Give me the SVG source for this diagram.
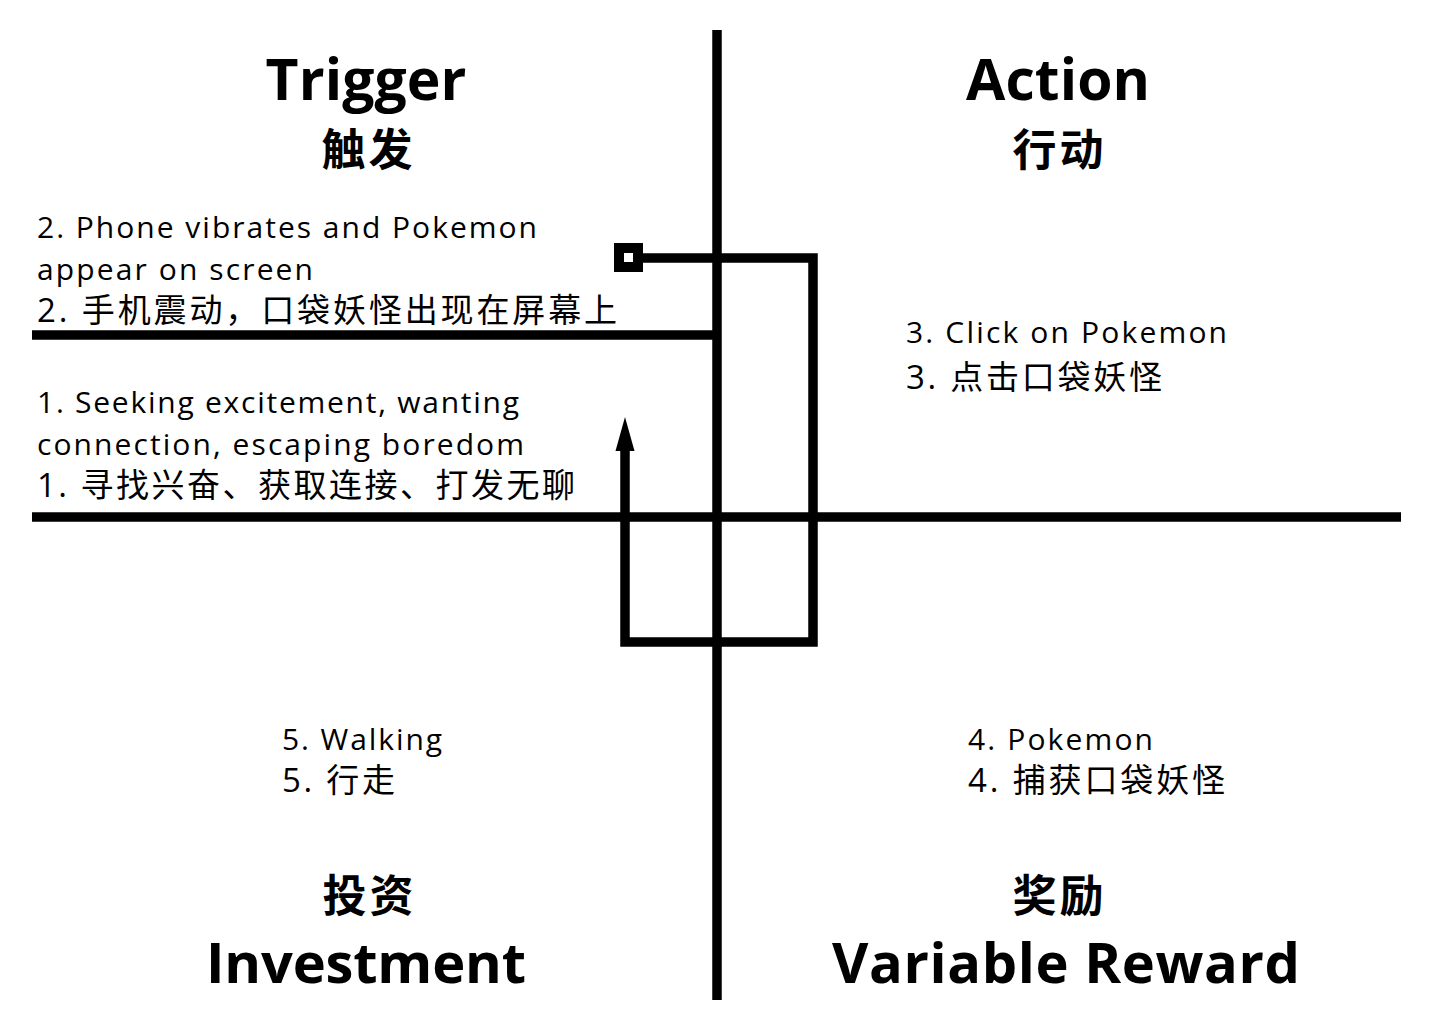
<svg xmlns="http://www.w3.org/2000/svg" width="1431" height="1025" viewBox="0 0 1431 1025">
<style>
.h{font-family:"Open Sans","Noto Sans","Noto Sans CJK SC",sans-serif;font-weight:700;font-size:57px;fill:#000;text-anchor:middle}
.hb{font-size:56px}
.hc{font-family:"Noto Sans CJK SC",sans-serif;font-weight:700;font-size:44px;fill:#000;text-anchor:middle}
.t{font-family:"Open Sans","Noto Sans","Noto Sans CJK SC",sans-serif;font-size:30px;fill:#000}
.tc{font-family:"Open Sans","Noto Sans CJK SC",sans-serif;font-size:33px;fill:#000}
.ln{stroke:#000;stroke-width:9.5;fill:none}
</style>
<rect width="1431" height="1025" fill="#fff"/>
<g id="axes">
<line class="ln" x1="717" y1="30" x2="717" y2="1000"/>
<line class="ln" x1="32" y1="517" x2="1401" y2="517"/>
<line class="ln" x1="32" y1="335" x2="717" y2="335"/>
</g>
<g id="connectors">
<rect x="619" y="248" width="19" height="19" fill="#fff" stroke="#000" stroke-width="10"/>
<path class="ln" d="M643,258 H813 V642 H625 V451" stroke-linejoin="miter"/>
<polygon points="625,417 615.5,451 634.5,451" fill="#000"/>
</g>
<g id="trigger">
<text class="h" x="366" y="100" textLength="201">Trigger</text>
<text class="hc" x="367" y="166" textLength="91">触发</text>
</g>
<g id="action">
<text class="h" x="1058" y="100" textLength="184">Action</text>
<text class="hc" x="1058" y="166" textLength="91">行动</text>
</g>
<g id="investment">
<text class="hc" x="368" y="912" textLength="91">投资</text>
<text class="h hb" x="366" y="983" textLength="320">Investment</text>
</g>
<g id="reward">
<text class="hc" x="1058" y="912" textLength="91">奖励</text>
<text class="h hb" x="1066" y="983" textLength="468">Variable Reward</text>
</g>
<g id="step2">
<text class="t" x="37" y="238" textLength="500">2. Phone vibrates and Pokemon</text>
<text class="t" x="37" y="280" textLength="276">appear on screen</text>
<text class="tc" x="37" y="322" textLength="580">2. 手机震动，口袋妖怪出现在屏幕上</text>
</g>
<g id="step1">
<text class="t" x="37" y="413" textLength="482">1. Seeking excitement, wanting</text>
<text class="t" x="37" y="455" textLength="487">connection, escaping boredom</text>
<text class="tc" x="37" y="497" textLength="538">1. 寻找兴奋、获取连接、打发无聊</text>
</g>
<g id="step3">
<text class="t" x="906" y="343" textLength="321">3. Click on Pokemon</text>
<text class="tc" x="906" y="389" textLength="256">3. 点击口袋妖怪</text>
</g>
<g id="step5">
<text class="t" x="282" y="750" textLength="160">5. Walking</text>
<text class="tc" x="282" y="792" textLength="113">5. 行走</text>
</g>
<g id="step4">
<text class="t" x="968" y="750" textLength="185">4. Pokemon</text>
<text class="tc" x="968" y="792" textLength="257">4. 捕获口袋妖怪</text>
</g>
</svg>
